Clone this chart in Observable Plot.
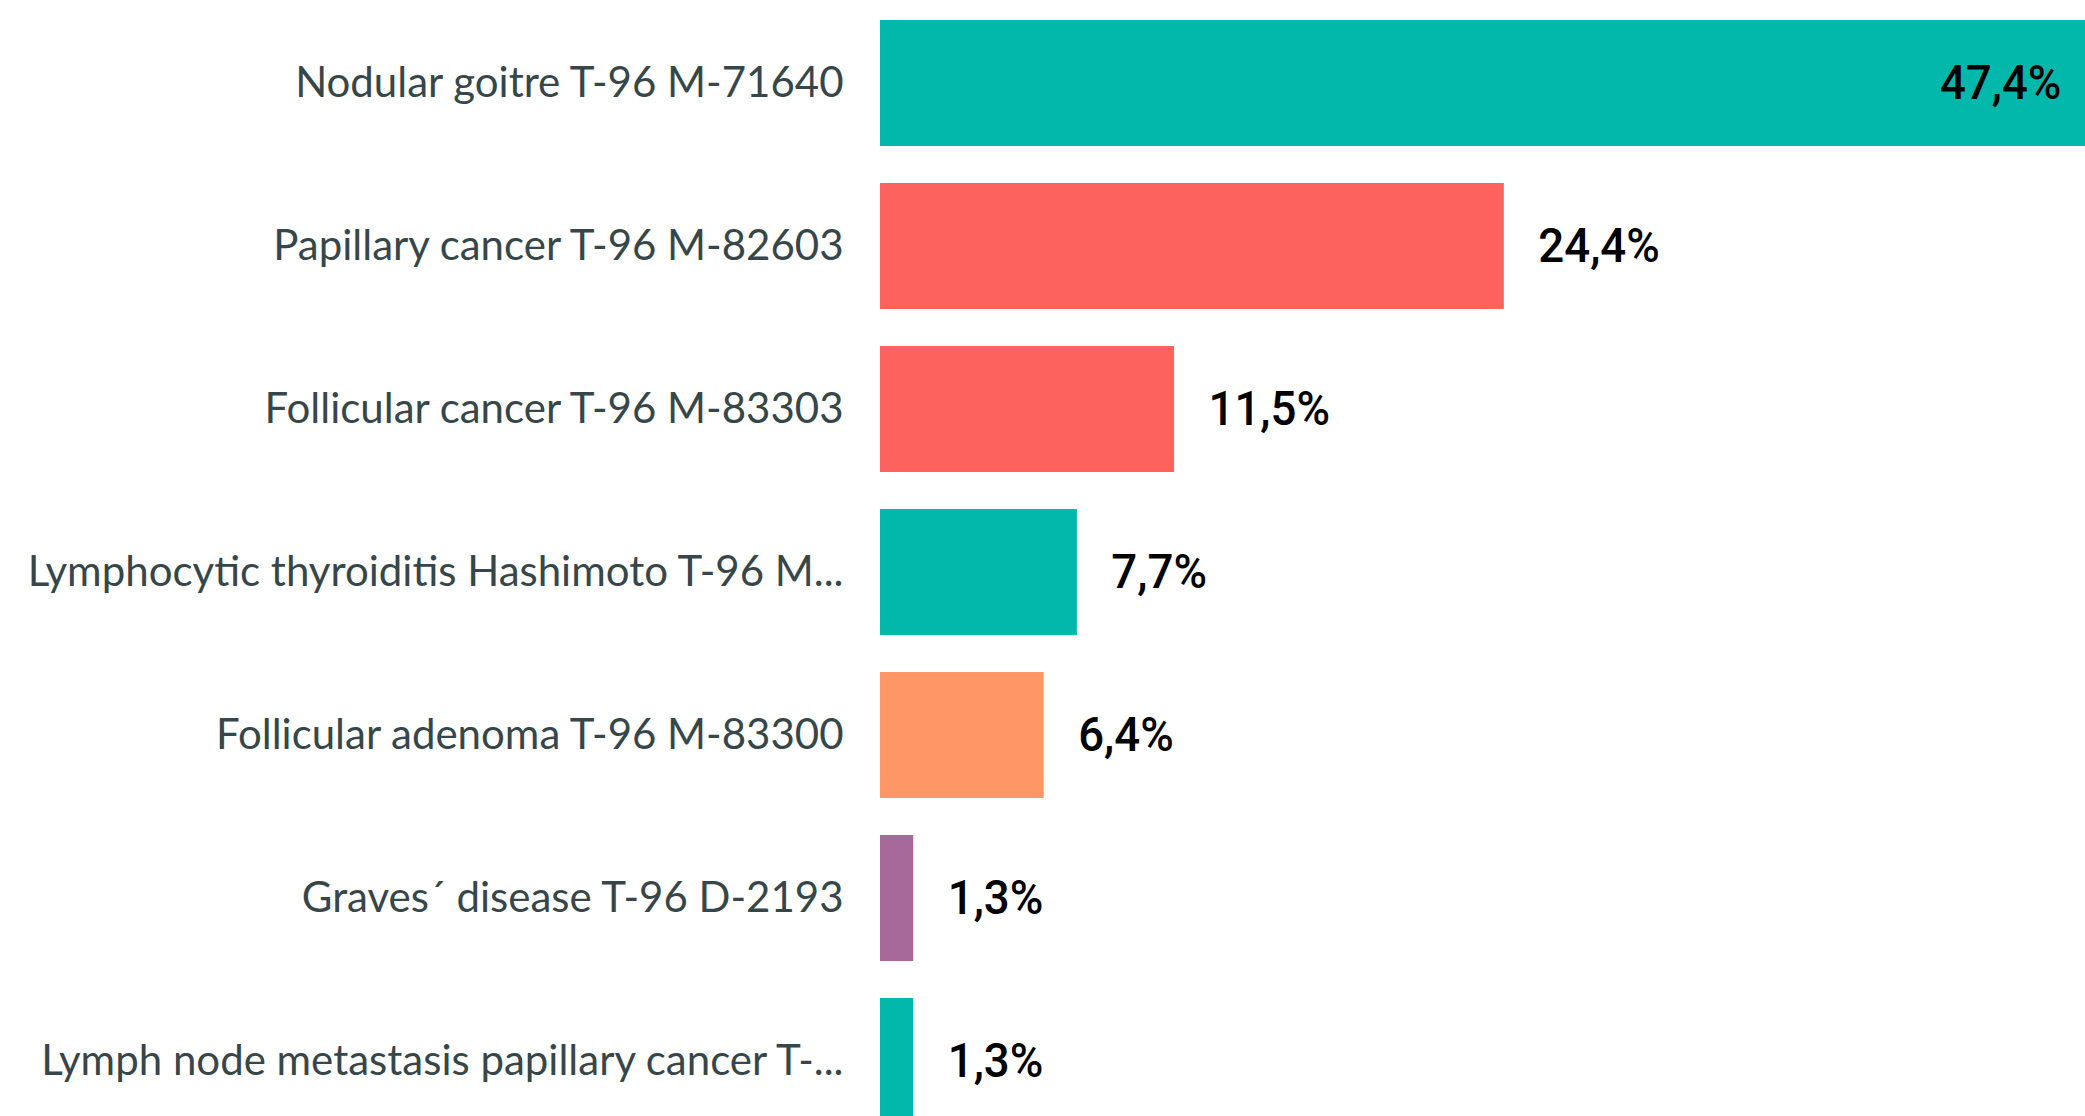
<!DOCTYPE html>
<html>
<head>
<meta charset="utf-8">
<script src="https://cdn.jsdelivr.net/npm/d3@7"></script>
<script src="https://cdn.jsdelivr.net/npm/@observablehq/plot@0.6"></script>
<style>
  html, body { margin: 0; padding: 0; background: #fff; overflow: hidden; }
  #wrap { width: 2085px; height: 1116px; overflow: hidden; }
  #wrap svg { display: block; overflow: hidden; }
</style>
</head>
<body>
<div id="wrap"></div>
<script>
const categories = [
  "Nodular goitre T-96 M-71640",
  "Papillary cancer T-96 M-82603",
  "Follicular cancer T-96 M-83303",
  "Lymphocytic thyroiditis Hashimoto T-96 M...",
  "Follicular adenoma T-96 M-83300",
  "Graves´ disease T-96 D-2193",
  "Lymph node metastasis papillary cancer T-..."
];
const values = [47.4, 24.4, 11.5, 7.7, 6.4, 1.3, 1.3];
const groups = ["Group 1", "Group 2", "Group 2", "Group 1", "Group 3", "Group 4", "Group 1"];
const groupDomain = ["Group 1", "Group 2", "Group 3", "Group 4"];
const groupColors = ["#01B8AA", "#FD625E", "#FE9666", "#A66999"];

const data = categories.map((c, i) => ({category: c, value: values[i], group: groups[i]}));
const fmt = v => d3.format(".1f")(v).replace(".", ",") + "%";
const maxV = d3.max(values);
const labelFont = "Roboto, 'DejaVu Sans Condensed', sans-serif";
const catFont = "Lato, 'Open Sans', sans-serif";

const chart = Plot.plot({
  width: 2085,
  height: 1144,
  marginLeft: 880,
  marginRight: 0,
  marginTop: 0,
  marginBottom: 0,
  x: {domain: [0, 47.13], axis: null},
  y: {domain: categories, paddingInner: 0.229, paddingOuter: 0.114, label: null},
  color: {domain: groupDomain, range: groupColors},
  style: {fontFamily: catFont, color: "#374649", background: "#fff"},
  marks: [
    Plot.axisY({tickSize: 0, tickPadding: 37, fontSize: 42, label: null,
                fill: "#374649", fontFamily: catFont}),
    Plot.barX(data, {x: "value", y: "category", fill: "group", clip: true}),
    Plot.text(data.filter(d => d.value < maxV * 0.9), {
      x: "value", y: "category", text: d => fmt(d.value),
      textAnchor: "start", dx: 34, fill: "#000", fontSize: 48,
      fontWeight: 500, fontFamily: labelFont, className: "vlabel"
    }),
    Plot.text(data.filter(d => d.value >= maxV * 0.9), {
      x: "value", y: "category", text: d => fmt(d.value),
      textAnchor: "end", dx: -31, fill: "#000", fontSize: 48,
      fontWeight: 500, fontFamily: labelFont, className: "vlabel"
    })
  ]
});
document.getElementById("wrap").appendChild(chart);
// condense value labels slightly to mimic a narrow DIN-like face
chart.querySelectorAll(".vlabel text").forEach(t => {
  const w = t.getComputedTextLength();
  t.setAttribute("textLength", (w * 0.95).toFixed(1));
  t.setAttribute("lengthAdjust", "spacingAndGlyphs");
});
</script>
</body>
</html>
